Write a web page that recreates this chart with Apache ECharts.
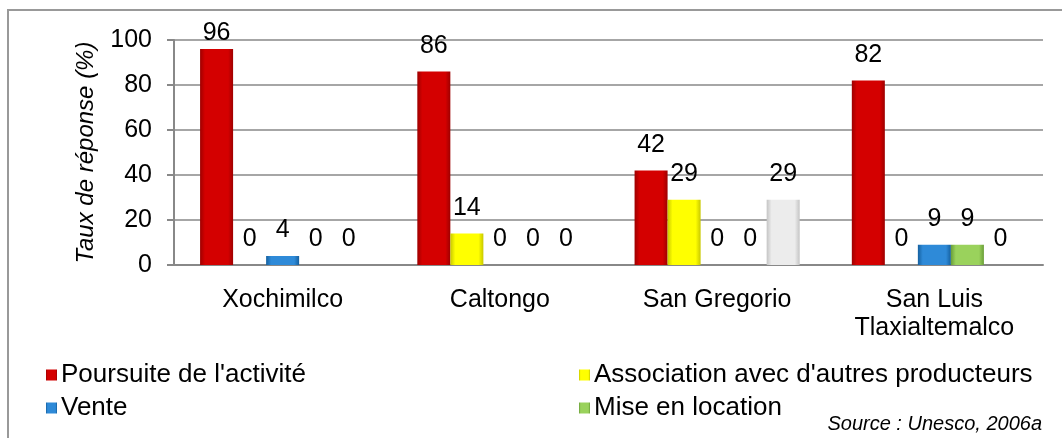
<!DOCTYPE html>
<html>
<head>
<meta charset="utf-8">
<script src="https://cdn.jsdelivr.net/npm/echarts@6/dist/echarts.min.js"></script>
<style>
  html, body { margin: 0; padding: 0; background: #fff; }
  #chart { width: 1062px; height: 438px; }
</style>
</head>
<body>
<div id="chart"></div>
<script>
// catégories et valeurs (taux de réponse, %)
var categories = ['Xochimilco', 'Caltongo', 'San Gregorio', 'San Luis\nTlaxialtemalco'];
var seriesNames = ["Poursuite de l'activité", "Association avec d'autres producteurs", 'Vente', 'Mise en location', 'Autre'];
var poursuite = [96, 86, 42, 82];
var association = [0, 14, 29, 0];
var vente = [4, 0, 0, 9];
var location_ = [0, 0, 0, 9];
var autre = [0, 0, 29, 0];
var yTicks = [0, 20, 40, 60, 80, 100];

var FONT = 'Liberation Sans, Arial, sans-serif';

// couleurs : [bord, centre]
var colors = [
  ['#9e0000', '#d40000'],
  ['#c8c800', '#ffff00'],
  ['#15609f', '#2e8ad8'],
  ['#6a9e38', '#9ad25c'],
  ['#c4c4c4', '#ececec']
];

function grad(c) {
  return new echarts.graphic.LinearGradient(0, 0, 1, 0, [
    { offset: 0, color: c[0] },
    { offset: 0.15, color: c[1] },
    { offset: 0.85, color: c[1] },
    { offset: 1, color: c[0] }
  ]);
}

var allData = [poursuite, association, vente, location_, autre];

var chart = echarts.init(document.getElementById('chart'));

var series = allData.map(function (arr, i) {
  return {
    name: seriesNames[i],
    type: 'bar',
    barGap: '0%',
    barCategoryGap: '24%',
    itemStyle: { color: grad(colors[i]) },
    label: {
      show: true,
      position: 'top',
      distance: 13,
      color: '#000',
      fontSize: 25,
      fontFamily: FONT
    },
    data: arr.map(function (v) {
      // le 96 touche le haut du cadre : étiquette plus proche
      if (v > 90) return { value: v, label: { distance: 3 } };
      return v;
    })
  };
});

var legendBase = {
  orient: 'vertical',
  top: 357,
  itemWidth: 11, itemHeight: 11, itemGap: 7,
  icon: 'rect',
  textStyle: { fontSize: 26, color: '#000', fontFamily: FONT, padding: [0, 0, 0, -1] }
};

var option = {
  animation: false,
  textStyle: { fontFamily: FONT },
  grid: { left: 174, right: 19, top: 40, bottom: 173 },
  legend: [
    Object.assign({ data: [seriesNames[0], seriesNames[2]], left: 41 }, legendBase),
    Object.assign({ data: [seriesNames[1], seriesNames[3]], left: 574 }, legendBase)
  ],
  xAxis: {
    type: 'category',
    data: categories,
    axisLine: { lineStyle: { color: '#888', width: 2 } },
    axisTick: { show: false },
    axisLabel: { color: '#000', fontSize: 25, margin: 21, lineHeight: 28, fontFamily: FONT }
  },
  yAxis: {
    type: 'value',
    min: yTicks[0], max: yTicks[yTicks.length - 1], interval: 20,
    name: 'Taux de réponse (%)',
    nameLocation: 'middle',
    nameGap: 76,
    nameTextStyle: { fontSize: 24, fontStyle: 'italic', color: '#000', fontFamily: FONT },
    axisLine: { show: true, lineStyle: { color: '#888', width: 2 } },
    axisTick: { show: true, length: 7, lineStyle: { color: '#888', width: 2 } },
    axisLabel: { color: '#000', fontSize: 25, margin: 22, fontFamily: FONT },
    splitLine: { lineStyle: { color: '#a6a6a6', width: 2 } }
  },
  graphic: [{
    type: 'polyline',
    shape: { points: [[8, 438], [8, 10], [1062, 10]] },
    style: { stroke: '#999', lineWidth: 2, fill: null }
  }, {
    type: 'text',
    right: 20, top: 414,
    style: { text: 'Source : Unesco, 2006a', font: 'italic 20px ' + FONT, fill: '#000' }
  }],
  series: series
};

chart.setOption(option);
</script>
</body>
</html>
